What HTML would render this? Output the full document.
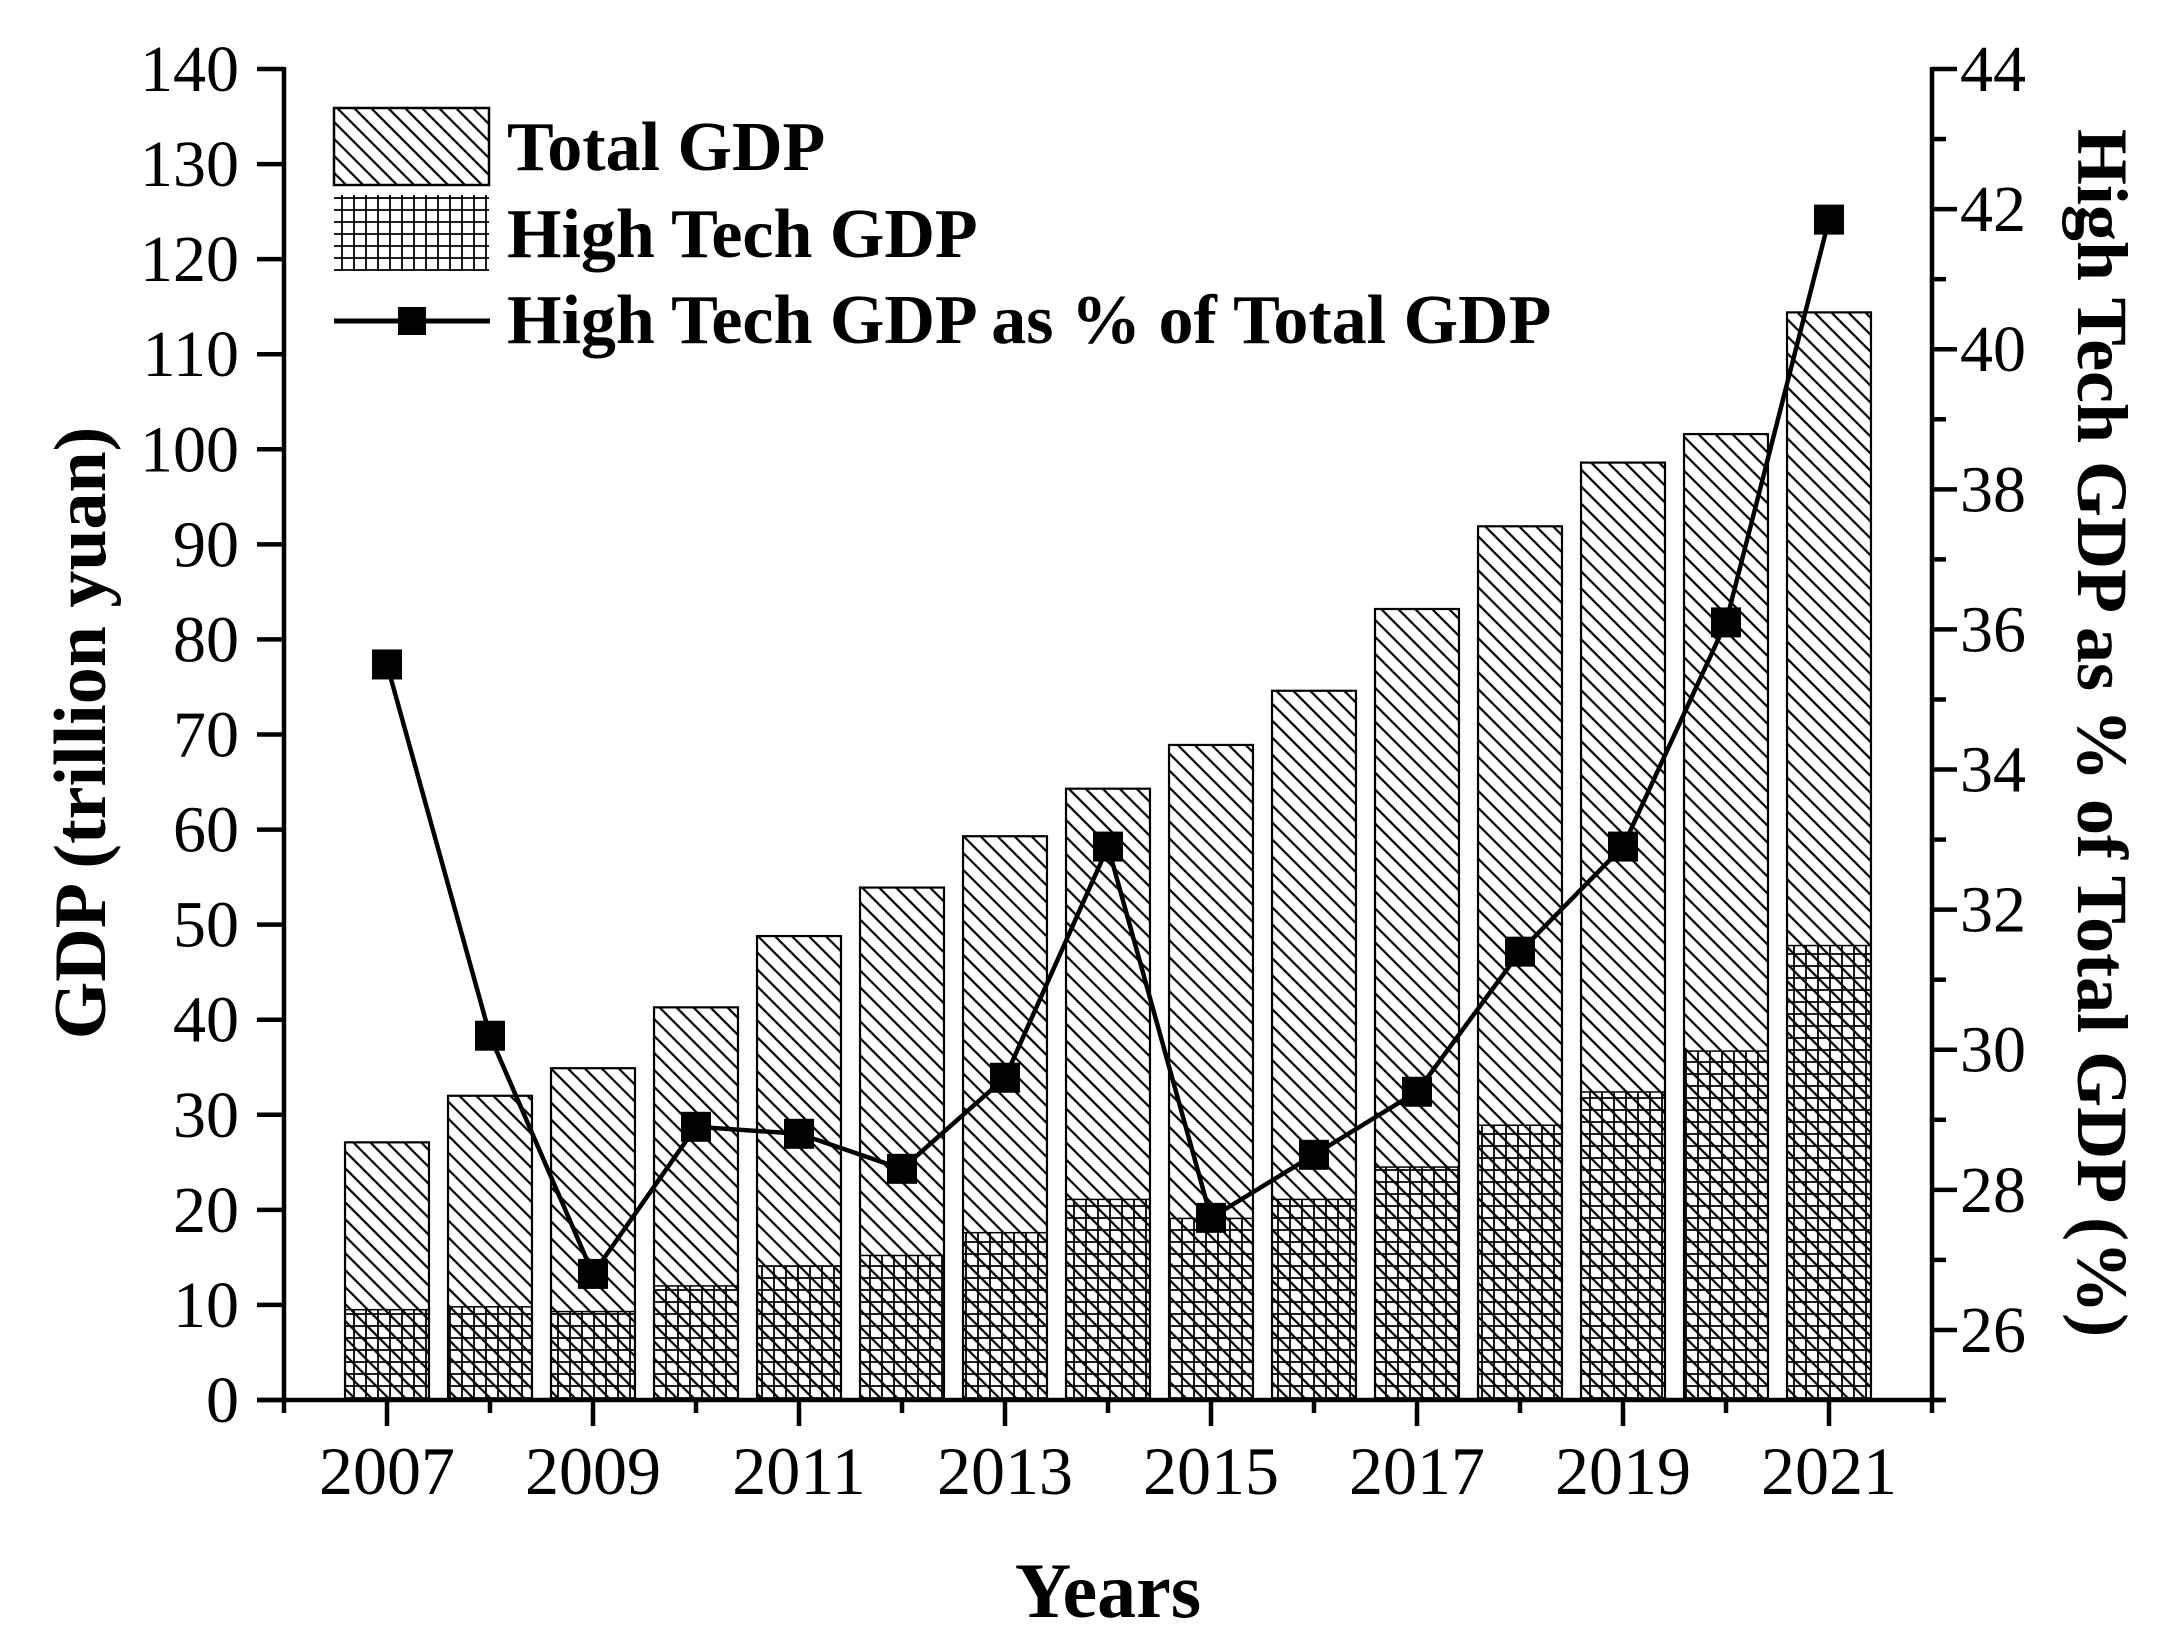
<!DOCTYPE html>
<html><head><meta charset="utf-8"><style>
html,body{margin:0;padding:0;background:#fff;}
svg{display:block;font-family:"Liberation Serif",serif;}
</style></head><body>
<svg id="chart" width="2179" height="1650" viewBox="0 0 2179 1650" xmlns="http://www.w3.org/2000/svg">
<defs>
<pattern id="diag" patternUnits="userSpaceOnUse" width="12" height="12" patternTransform="rotate(-45)">
<rect width="12" height="12" fill="#fff"/><line x1="6" y1="0" x2="6" y2="12" stroke="#000" stroke-width="2.2"/>
</pattern>
<pattern id="grid" patternUnits="userSpaceOnUse" width="12" height="12">
<path d="M6 0V12M0 6H12" stroke="#000" stroke-width="1.8" fill="none"/>
</pattern>
</defs>
<g id="bars"></g>
<g id="axes"></g>
<g id="line"></g>
<g>
<rect x="334" y="108" width="155" height="77" fill="url(#diag)" stroke="#000" stroke-width="2.5"/>
<rect x="334" y="195" width="155" height="76" fill="url(#grid)" stroke="none"/>
<line x1="334" y1="321" x2="490" y2="321" stroke="#000" stroke-width="5"/>
<rect x="398" y="307" width="28" height="28" fill="#000"/>
<text x="507" y="170" font-size="70" font-weight="bold">Total GDP</text>
<text x="507" y="257" font-size="70" font-weight="bold">High Tech GDP</text>
<text x="507" y="343" font-size="70" font-weight="bold">High Tech GDP as % of Total GDP</text>
</g>
<text x="1108" y="1617" font-size="78" font-weight="bold" text-anchor="middle">Years</text>
<text transform="translate(105,733) rotate(-90)" font-size="74" font-weight="bold" text-anchor="middle">GDP (trillion yuan)</text>
<text transform="translate(2078,733) rotate(90)" font-size="72" font-weight="bold" text-anchor="middle">High Tech GDP as % of Total GDP (%)</text>
</svg>
<script>
const years = [2007,2008,2009,2010,2011,2012,2013,2014,2015,2016,2017,2018,2019,2020,2021];
const totalGDP = [27.1,32.0,34.9,41.3,48.8,53.9,59.3,64.3,68.9,74.6,83.2,91.9,98.6,101.6,114.4];
const highTechGDP = [9.5,9.8,9.3,12.0,14.1,15.2,17.6,21.1,19.1,21.1,24.5,28.9,32.4,36.7,47.8];
const percentShare = [35.5,30.2,26.8,28.9,28.8,28.3,29.6,32.9,27.6,28.5,29.4,31.4,32.9,36.1,41.85];
const leftTicks = [0,10,20,30,40,50,60,70,80,90,100,110,120,130,140];
const rightTicks = [26,28,30,32,34,36,38,40,42,44];
const xTickLabels = [2007,2009,2011,2013,2015,2017,2019,2021];

const NS='http://www.w3.org/2000/svg';
const L=284,R=1932,T=69,B=1400;
const x=v=>L+(v-2006)*(R-L)/16;
const y=v=>B-v*(B-T)/140;
const y2=v=>B-(v-25)*(B-T)/19;
function mk(tag,attrs,parent){const e=document.createElementNS(NS,tag);for(const k in attrs)e.setAttribute(k,attrs[k]);parent.appendChild(e);return e;}
const bars=document.getElementById('bars'),axes=document.getElementById('axes'),line=document.getElementById('line');
const bw=(x(1)-x(0))*0.815;
years.forEach((yr,i)=>{
  const t=mk('rect',{x:x(yr)-bw/2,y:y(totalGDP[i]),width:bw,height:B-y(totalGDP[i]),fill:'url(#diag)',stroke:'#000','stroke-width':2.2},bars);
  
  
  const h=mk('rect',{x:x(yr)-bw/2,y:y(highTechGDP[i]),width:bw,height:B-y(highTechGDP[i]),fill:'url(#grid)',stroke:'#000','stroke-width':1.5},bars);
  
  
});
mk('line',{x1:L,y1:T-2,x2:L,y2:B,stroke:'#000','stroke-width':4.5},axes);
mk('line',{x1:R,y1:T-2,x2:R,y2:B,stroke:'#000','stroke-width':4.5},axes);
mk('line',{x1:L-27,y1:B,x2:R+10,y2:B,stroke:'#000','stroke-width':4.5},axes);
leftTicks.forEach(v=>{
  mk('line',{x1:L-27,y1:y(v),x2:L,y2:y(v),stroke:'#000','stroke-width':4.5},axes);
  const t=mk('text',{x:L-45,y:y(v)+22,'font-size':66,'text-anchor':'end'},axes);t.textContent=v;
  
  
});
for(let v=25;v<=44;v++){
  const major=rightTicks.includes(v);
  mk('line',{x1:R,y1:y2(v),x2:R+(major?25:14),y2:y2(v),stroke:'#000','stroke-width':4.5},axes);
}
rightTicks.forEach(v=>{
  const t=mk('text',{x:R+28,y:y2(v)+22,'font-size':66},axes);t.textContent=v;
  
  
});
for(let yr=2006;yr<=2022;yr++){
  const major=xTickLabels.includes(yr);
  mk('line',{x1:x(yr),y1:B,x2:x(yr),y2:B+(major?26:13),stroke:'#000','stroke-width':4.5},axes);
}
xTickLabels.forEach(yr=>{
  const t=mk('text',{x:x(yr),y:1494,'font-size':68,'text-anchor':'middle'},axes);t.textContent=yr;
  
  
});
const pts=years.map((yr,i)=>x(yr)+','+y2(percentShare[i])).join(' ');
const pl=mk('polyline',{points:pts,fill:'none',stroke:'#000','stroke-width':4.5},line);


years.forEach((yr,i)=>{
  const m=mk('rect',{x:x(yr)-15,y:y2(percentShare[i])-15,width:30,height:30,fill:'#000'},line);
  
  
});
</script>
</body></html>
